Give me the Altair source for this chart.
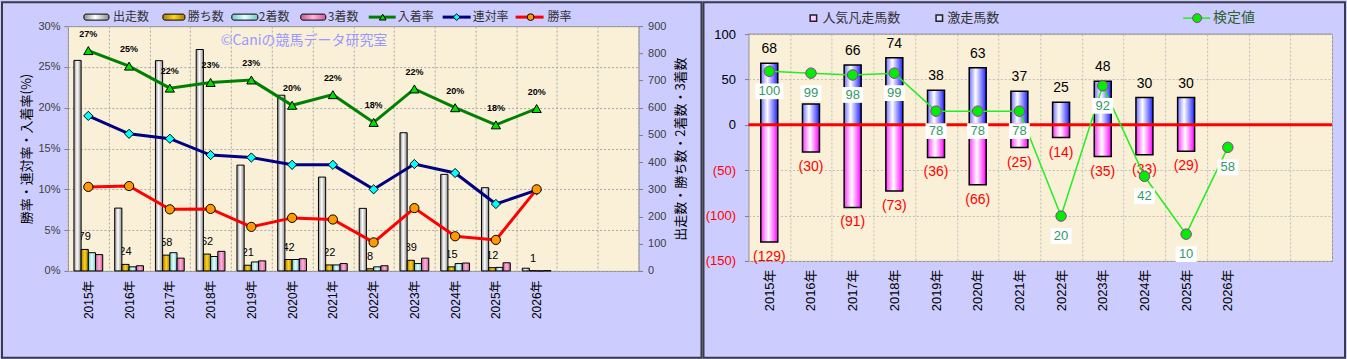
import altair as alt
import pandas as pd

# ---------------- data ----------------
YEARS = ["2015年", "2016年", "2017年", "2018年", "2019年", "2020年",
         "2021年", "2022年", "2023年", "2024年", "2025年", "2026年"]
EXTRA_SLOTS = ["_1", "_2"]
SERIES = ["出走数", "勝ち数", "2着数", "3着数"]
RUNS = [774, 231, 773, 814, 389, 646, 345, 230, 508, 355, 306, 10]
WINS = [79, 24, 58, 62, 21, 42, 22, 8, 39, 15, 12, 1]
SECONDS = [67, 15, 67, 53, 33, 42, 22, 15, 27, 27, 13, 0]
THIRDS = [60, 19, 47, 72, 37, 45, 27, 19, 47, 29, 30, 1]
RATE_NAMES = ["入着率", "連対率", "勝率"]
PLACE_RATE = [27.0, 25.1, 22.4, 23.1, 23.4, 20.3, 21.6, 18.2, 22.3, 20.0, 17.9, 19.9]
QUINELLA_RATE = [19.0, 16.8, 16.2, 14.2, 13.9, 13.0, 13.0, 10.0, 13.1, 12.0, 8.2, 9.9]
WIN_RATE = [10.3, 10.4, 7.55, 7.6, 5.4, 6.5, 6.3, 3.5, 7.7, 4.25, 3.8, 10.0]
PCT_TICKS = [0, 5, 10, 15, 20, 25, 30]
COUNT_TICKS = [0, 100, 200, 300, 400, 500, 600, 700, 800, 900]
LEFT_TITLE = "勝率・連対率・入着率(%)"
RIGHT_TITLE = "出走数・勝ち数・2着数・3着数"
WATERMARK = "©Caniの競馬データ研究室"

R_SERIES = ["人気凡走馬数", "激走馬数"]
SCORE_NAME = "検定値"
POS = [68, 23, 66, 74, 38, 63, 37, 25, 48, 30, 30, None]
POS_LABELS = [68, None, 66, 74, 38, 63, 37, 25, 48, 30, 30, None]  # 2016 label hidden in source
NEG = [-129, -30, -91, -73, -36, -66, -25, -14, -35, -33, -29, None]
SCORE = [100, 99, 98, 99, 78, 78, 78, 20, 92, 42, 10, 58]
R_TICKS = [-150, -100, -50, 0, 50, 100]

# ---------------- styling ----------------
FONT = "Liberation Sans, Noto Sans CJK JP, sans-serif"
JFONT = "Noto Sans CJK JP, sans-serif"
LAVENDER = "#CCCCFF"
PARCH = "#FAF0D8"
GRID = "#A8A8A8"


def grad(c_edge, c_mid, mid=0.5, c_edge2=None):
    return alt.Gradient(
        gradient="linear", x1=0, x2=1, y1=0, y2=0,
        stops=[alt.GradientStop(color=c_edge, offset=0),
               alt.GradientStop(color=c_mid, offset=mid),
               alt.GradientStop(color=c_edge2 or c_edge, offset=1)])


BAR_GRADS = [grad("#8C8C8C", "#FFFFFF", 0.45), grad("#A88000", "#FFD21F"),
             grad("#72C8C8", "#E4FFFF"), grad("#C85C96", "#FFB4DA")]
LINE_COLORS = ["#008000", "#000080", "#FF0000"]
MARK_FILLS = ["#00E000", "#00FFFF", "#FF9900"]
MARK_SHAPES = ["triangle-up", "diamond", "circle"]


def one():
    return alt.Chart(pd.DataFrame({"k": [0]}))


def text_at(x, y, s, **kw):
    args = dict(align="left", baseline="middle", font=JFONT, fontSize=12, color="#333333")
    args.update(kw)
    return one().mark_text(**args).encode(x=alt.value(x), y=alt.value(y), text=alt.value(s))


# ---------------- left chart ----------------
W1, H1 = 571, 245
SLOTS = YEARS + EXTRA_SLOTS
X_LABEL_EXPR = "indexof(datum.label, '_') == 0 ? '' : datum.label"

x_axis1 = alt.Axis(title=None, labelAngle=-90, labelFontSize=12, labelColor="#000000",
                   labelFont=FONT, labelPadding=9, ticks=False, domain=False, grid=True,
                   gridColor=GRID, gridDash=[2, 2], tickBand="extent", labelExpr=X_LABEL_EXPR)
count_axis = alt.Axis(orient="right", values=COUNT_TICKS, grid=False, domain=False,
                      tickSize=4, tickColor="#808080", labelPadding=5, labelFontSize=11,
                      labelColor="#404040", labelFont=FONT, title=RIGHT_TITLE,
                      titleAngle=270, titleBaseline="top", titleFont=JFONT, titleFontSize=13,
                      titleFontWeight="normal", titleColor="#000000", titlePadding=9)
rate_axis = alt.Axis(orient="left", values=PCT_TICKS, labelExpr="datum.value + '%'",
                     grid=True, gridColor=GRID, gridDash=[2, 2], domain=False, tickSize=4,
                     tickColor="#808080", labelPadding=4, labelFontSize=11,
                     labelColor="#404040", labelFont=FONT, title=LEFT_TITLE, titleFont=JFONT,
                     titleFontSize=13, titleFontWeight="normal", titleColor="#000000",
                     titlePadding=4)


def X1():
    return alt.X("year:N", scale=alt.Scale(domain=SLOTS, paddingInner=0, paddingOuter=0),
                 axis=x_axis1)


def YC():
    return alt.Y("count:Q", scale=alt.Scale(domain=[0, 900], nice=False), axis=count_axis)


def YR():
    return alt.Y("rate:Q", scale=alt.Scale(domain=[0, 30], nice=False), axis=rate_axis)


bars_df = pd.DataFrame([{"year": y, "series": s, "count": v}
                        for s, arr in zip(SERIES, [RUNS, WINS, SECONDS, THIRDS])
                        for y, v in zip(YEARS, arr)])
rates_df = pd.DataFrame([{"year": y, "name": n, "rate": v}
                         for n, arr in zip(RATE_NAMES, [PLACE_RATE, QUINELLA_RATE, WIN_RATE])
                         for y, v in zip(YEARS, arr)])

xoff = alt.XOffset("series:N", scale=alt.Scale(domain=SERIES, paddingInner=0, paddingOuter=0.83))

win_labels = (alt.Chart(bars_df).transform_filter(alt.datum.series == SERIES[1])
              .mark_text(dy=-12, fontSize=11, font=FONT, color="#000000")
              .encode(x=X1(), xOffset=xoff, y=YC(), text="count:Q"))
bar_layers = []
for s, g in zip(SERIES, BAR_GRADS):
    bar_layers.append(
        alt.Chart(bars_df).transform_filter(alt.datum.series == s)
        .mark_bar(fill=g, stroke="#000000", strokeWidth=1)
        .encode(x=X1(), xOffset=xoff, y=YC()))
count_group = alt.layer(win_labels, *bar_layers)

rate_lines = alt.Chart(rates_df).mark_line(strokeWidth=3).encode(
    x=X1(), y=YR(),
    color=alt.Color("name:N", scale=alt.Scale(domain=RATE_NAMES, range=LINE_COLORS), legend=None))
rate_points = alt.Chart(rates_df).mark_point(filled=True, size=85, opacity=1, stroke="#000000",
                                             strokeWidth=1).encode(
    x=X1(), y=YR(),
    fill=alt.Fill("name:N", scale=alt.Scale(domain=RATE_NAMES, range=MARK_FILLS), legend=None),
    shape=alt.Shape("name:N", scale=alt.Scale(domain=RATE_NAMES, range=MARK_SHAPES), legend=None))
rate_labels = (alt.Chart(rates_df).transform_filter(alt.datum.name == RATE_NAMES[0])
               .transform_calculate(lbl="format(datum.rate, '.0f') + '%'")
               .mark_text(dy=-17, fontSize=9, fontWeight="bold", font=FONT, color="#000000")
               .encode(x=X1(), y=YR(), text="lbl:N"))
rate_group = alt.layer(rate_lines, rate_points, rate_labels)

# legend (left)
LY = -9
leg1 = []
for (x0, x1, tx), s, g in zip([(16, 41, 45), (95, 117, 120), (164, 190, 191), (233, 258, 260)],
                              SERIES, BAR_GRADS):
    leg1.append(one().mark_rect(fill=g, stroke="#000000", strokeWidth=1, cornerRadius=2)
                .encode(x=alt.value(x0), x2=alt.value(x1), y=alt.value(LY - 3), y2=alt.value(LY + 3)))
    leg1.append(text_at(tx, LY, s))
for (x0, x1, mx, tx), n, c, f, sh in zip([(301, 328, 315, 330), (375, 403, 389, 405),
                                          (448, 476, 463, 480)],
                                         RATE_NAMES, LINE_COLORS, MARK_FILLS, MARK_SHAPES):
    leg1.append(one().mark_rule(color=c, strokeWidth=3)
                .encode(x=alt.value(x0), x2=alt.value(x1), y=alt.value(LY)))
    leg1.append(one().mark_point(shape=sh, filled=True, fill=f, stroke="#000000", strokeWidth=1,
                                 size=45, opacity=1)
                .encode(x=alt.value(mx), y=alt.value(LY)))
    leg1.append(text_at(tx, LY, n))

watermark1 = text_at(153, 15, WATERMARK, fontSize=14, color="#9999FF")
frame1 = one().mark_rect(fillOpacity=0, stroke="#3A3A48", strokeWidth=2).encode(
    x=alt.value(-66), x2=alt.value(634), y=alt.value(-24), y2=alt.value(332))

left = alt.layer(count_group, rate_group, watermark1, *leg1, frame1).resolve_scale(
    y="independent").properties(width=W1, height=H1)

# ---------------- right chart ----------------
W2, H2 = 584, 235
TOP_GAP = 8  # plot frame starts 8px below the row top

x_axis2 = alt.Axis(title=None, labelAngle=-90, labelFontSize=13, labelColor="#000000",
                   labelFont=FONT, labelPadding=8, ticks=False, domain=False, grid=True,
                   gridColor="#BDBDBD", gridDash=[2, 2], tickBand="extent",
                   labelExpr=X_LABEL_EXPR)
y_axis2 = alt.Axis(values=R_TICKS, title=None, grid=True, gridColor="#BDBDBD", gridDash=[2, 2],
                   domain=False, tickSize=4, tickColor="#808080", labelPadding=9,
                   labelFontSize=13, labelFont=FONT,
                   labelExpr="datum.value < 0 ? '(' + abs(datum.value) + ')' : '' + datum.value",
                   labelColor={"condition": {"test": "datum.value < 0", "value": "#FF0000"},
                               "value": "#000000"})


def X2():
    return alt.X("year:N", scale=alt.Scale(domain=SLOTS, paddingInner=0, paddingOuter=0),
                 axis=x_axis2)


def YV(field="v"):
    return alt.Y(f"{field}:Q", scale=alt.Scale(domain=[-150, 108.8], nice=False), axis=y_axis2)


pos_df = pd.DataFrame([{"year": y, "v": v} for y, v in zip(YEARS, POS) if v is not None])
pos_lab_df = pd.DataFrame([{"year": y, "v": v, "lab": l}
                           for y, v, l in zip(YEARS, POS, POS_LABELS) if l is not None])
neg_df = pd.DataFrame([{"year": y, "v": v} for y, v in zip(YEARS, NEG) if v is not None])
score_df = pd.DataFrame([{"year": y, "score": s} for y, s in zip(YEARS, SCORE)])

cover = one().mark_rect(fill=LAVENDER).encode(
    x=alt.value(-1), x2=alt.value(W2 + 1), y=alt.value(-2), y2=alt.value(TOP_GAP))
top_line = one().mark_rule(color="#8C8C8C", strokeWidth=1).encode(
    x=alt.value(0), x2=alt.value(W2), y=alt.value(TOP_GAP))

neg_bars = alt.Chart(neg_df).mark_bar(size=17, fill=grad("#FF33FF", "#FFFFFF", 0.45, "#FF00FF"),
                                      stroke="#000000", strokeWidth=1.5).encode(
    x=X2(), y=YV(), y2=alt.datum(0))
pos_bars = alt.Chart(pos_df).mark_bar(size=17, fill=grad("#7070FF", "#FFFFFF", 0.38, "#2020FF"),
                                      stroke="#000000", strokeWidth=1.5).encode(
    x=X2(), y=YV(), y2=alt.datum(0))
zero_line = alt.Chart(pd.DataFrame({"z": [0]})).mark_rule(color="#FF0000", strokeWidth=3).encode(
    y=YV("z"))
pos_labels = alt.Chart(pos_lab_df).mark_text(dy=-14, fontSize=14, font=FONT, color="#000000").encode(
    x=X2(), y=YV(), text="lab:Q")
neg_labels = (alt.Chart(neg_df).transform_calculate(lbl="'(' + abs(datum.v) + ')'")
              .mark_text(dy=15, fontSize=14, font=FONT, color="#FF0000")
              .encode(x=X2(), y=YV(), text="lbl:N"))
bar_group = alt.layer(neg_bars, pos_bars, zero_line, pos_labels, neg_labels)

score_y = alt.Y("score:Q", scale=alt.Scale(domain=[-4.8, 125], nice=False), axis=None)
score_line = alt.Chart(score_df).mark_line(color="#22EE22", strokeWidth=1.5).encode(x=X2(), y=score_y)
box3 = (alt.Chart(score_df).transform_filter("datum.score >= 100")
        .mark_point(shape="M-1,-0.56H1V0.56H-1Z", size=784, filled=True, fill="#FFFFFF",
                    opacity=1, strokeWidth=0, yOffset=20)
        .encode(x=X2(), y=score_y))
box2 = (alt.Chart(score_df).transform_filter("datum.score < 100")
        .mark_point(shape="M-1,-0.75H1V0.75H-1Z", size=441, filled=True, fill="#FFFFFF",
                    opacity=1, strokeWidth=0, yOffset=20)
        .encode(x=X2(), y=score_y))
score_text = alt.Chart(score_df).mark_text(dy=20, fontSize=13, font=FONT, color="#339966").encode(
    x=X2(), y=score_y, text="score:Q")
score_pts = alt.Chart(score_df).mark_point(shape="circle", size=110, filled=True, fill="#00EE00",
                                           stroke="#993399", strokeWidth=1, opacity=1).encode(
    x=X2(), y=score_y)
score_group = alt.layer(score_line, box3, box2, score_text, score_pts)

RLY = -8
leg2 = [
    one().mark_square(size=42, fill="#FFCCFF", stroke="#222222", strokeWidth=1.5, opacity=1)
    .encode(x=alt.value(65), y=alt.value(RLY)),
    text_at(74, RLY, R_SERIES[0], fontSize=13),
    one().mark_square(size=42, fill="#E0E0FF", stroke="#222222", strokeWidth=1.5, opacity=1)
    .encode(x=alt.value(191), y=alt.value(RLY)),
    text_at(199, RLY, R_SERIES[1], fontSize=13),
    one().mark_rule(color="#22EE22", strokeWidth=1.5)
    .encode(x=alt.value(435), x2=alt.value(462), y=alt.value(RLY)),
    one().mark_point(shape="circle", size=80, filled=True, fill="#00EE00", stroke="#993399",
                     strokeWidth=1, opacity=1).encode(x=alt.value(449), y=alt.value(RLY)),
    text_at(465, RLY, SCORE_NAME, fontSize=14, color="#2F5F2F"),
]
frame2 = one().mark_rect(fillOpacity=0, stroke="#3A3A48", strokeWidth=2).encode(
    x=alt.value(-45), x2=alt.value(597), y=alt.value(-24), y2=alt.value(332))

right = alt.layer(cover, top_line, bar_group, score_group, *leg2, frame2).resolve_scale(
    y="independent").properties(width=W2, height=H2)

chart = (alt.hconcat(left, right, spacing=110, bounds="flush")
         .properties(padding=0)
         .configure(background=LAVENDER, font=FONT)
         .configure_view(fill=PARCH, stroke="#8C8C8C", strokeWidth=1))

chart.save("out.html", embed_options={"renderer": "svg", "actions": False})
